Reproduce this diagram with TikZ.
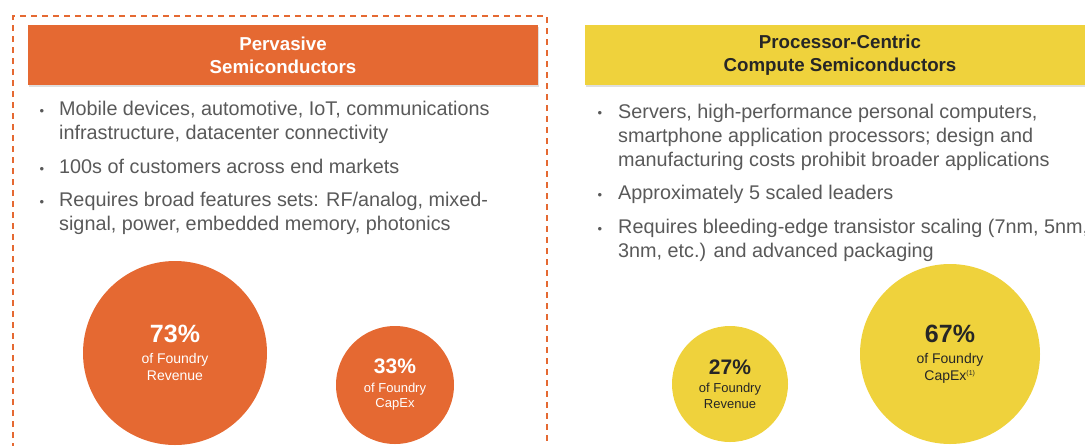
\documentclass[tikz,border=0pt]{standalone}
\usepackage{fontspec}
\setmainfont{Liberation Sans}
\usetikzlibrary{positioning, shadows}
\definecolor{PervOrange}{RGB}{229, 105, 50}
\definecolor{CompYellow}{RGB}{239, 210, 60}
\definecolor{BodyGrey}{RGB}{89, 89, 89}
\definecolor{DarkInk}{RGB}{38, 38, 38}

\begin{document}
\begin{tikzpicture}[
    x=1pt, y=-1pt,
    % --- STYLES ---
    % Headers: wide bars with a soft shadow
    header/.style={
        rectangle,
        minimum width=510pt,
        minimum height=60pt,
        align=center,
        font=\fontsize{18.7}{23}\selectfont\bfseries,
        drop shadow={shadow xshift=1pt, shadow yshift=-2pt, opacity=0.25}
    },
    % Bullet text: grey body copy (placed by the baseline of its last line)
    itemtext/.style={
        anchor=base west,
        inner sep=0pt,
        align=left,
        text=BodyGrey,
        font=\fontsize{19.8}{24}\selectfont
    },
    dot/.style={
        anchor=base,
        inner sep=0pt,
        text=BodyGrey,
        font=\fontsize{13}{14}\selectfont
    },
    % Share bubbles
    bubble/.style={
        circle,
        inner sep=0pt,
        align=center
    },
    bigpct/.style={font=\fontsize{14}{17}\selectfont},
    smallpct/.style={font=\fontsize{13}{15.5}\selectfont},
    % Frame round the pervasive column
    frame/.style={
        draw=PervOrange,
        line width=2pt,
        dash pattern=on 6pt off 5pt
    }
]

\useasboundingbox (0,0) rectangle (1085,445);
\clip (0,0) rectangle (1085,445);

% --- 1. PERVASIVE COLUMN ---

\node (pervhead) [header, fill=PervOrange, text=white] at (283,55) {Pervasive\\Semiconductors};

\node (pervmarkets) [itemtext] at (59,139) {Mobile devices, automotive, IoT, communications\\infrastructure, datacenter connectivity};
\node (pervcustomers) [itemtext] at (59,173) {100s of customers across end markets};
\node (pervfeatures) [itemtext] at (59,230) {Requires broad features sets: RF/analog, mixed-\\signal, power, embedded memory, photonics};

\foreach \y in {115,173,206}
    \node (pervdot\y) [dot] at (42,\y) {\textbullet};

\node (pervrev) [bubble, bigpct, fill=PervOrange, text=white, minimum size=184pt] at (175,353)
    {{\fontsize{25}{26}\selectfont\bfseries 73\%}\\[4pt]of Foundry\\Revenue};
\node (pervcapex) [bubble, smallpct, fill=PervOrange, text=white, minimum size=118pt] at (395,385)
    {{\fontsize{21}{22}\selectfont\bfseries 33\%}\\[3pt]of Foundry\\CapEx};

% dashed frame, open at the bottom
\draw [frame] (13,460) -- (13,16) -- (547,16) -- (547,460);

% --- 2. COMPUTE COLUMN ---

\node (comphead) [header, fill=CompYellow, text=DarkInk] at (840,55) {Processor-Centric\\Compute Semiconductors};

\node (compmarkets) [itemtext] at (618,166) {Servers, high-performance personal computers,\\smartphone application processors; design and\\manufacturing costs prohibit broader applications};
\node (compleaders) [itemtext] at (618,199) {Approximately 5 scaled leaders};
\node (compscaling) [itemtext] at (618,257) {Requires bleeding-edge transistor scaling (7nm, 5nm,\\3nm, etc.) and advanced packaging};

\foreach \y in {117,199,233}
    \node (compdot\y) [dot] at (600,\y) {\textbullet};

\node (comprev) [bubble, smallpct, fill=CompYellow, text=DarkInk, minimum size=116pt] at (730,384)
    {{\fontsize{21}{22}\selectfont\bfseries 27\%}\\[3pt]of Foundry\\Revenue};
\node (compcapex) [bubble, bigpct, fill=CompYellow, text=DarkInk, minimum size=180pt] at (950,354)
    {{\fontsize{25}{26}\selectfont\bfseries 67\%}\\[4pt]of Foundry\\CapEx\textsuperscript{\fontsize{7}{8}\selectfont(1)}};

\end{tikzpicture}
\end{document}
